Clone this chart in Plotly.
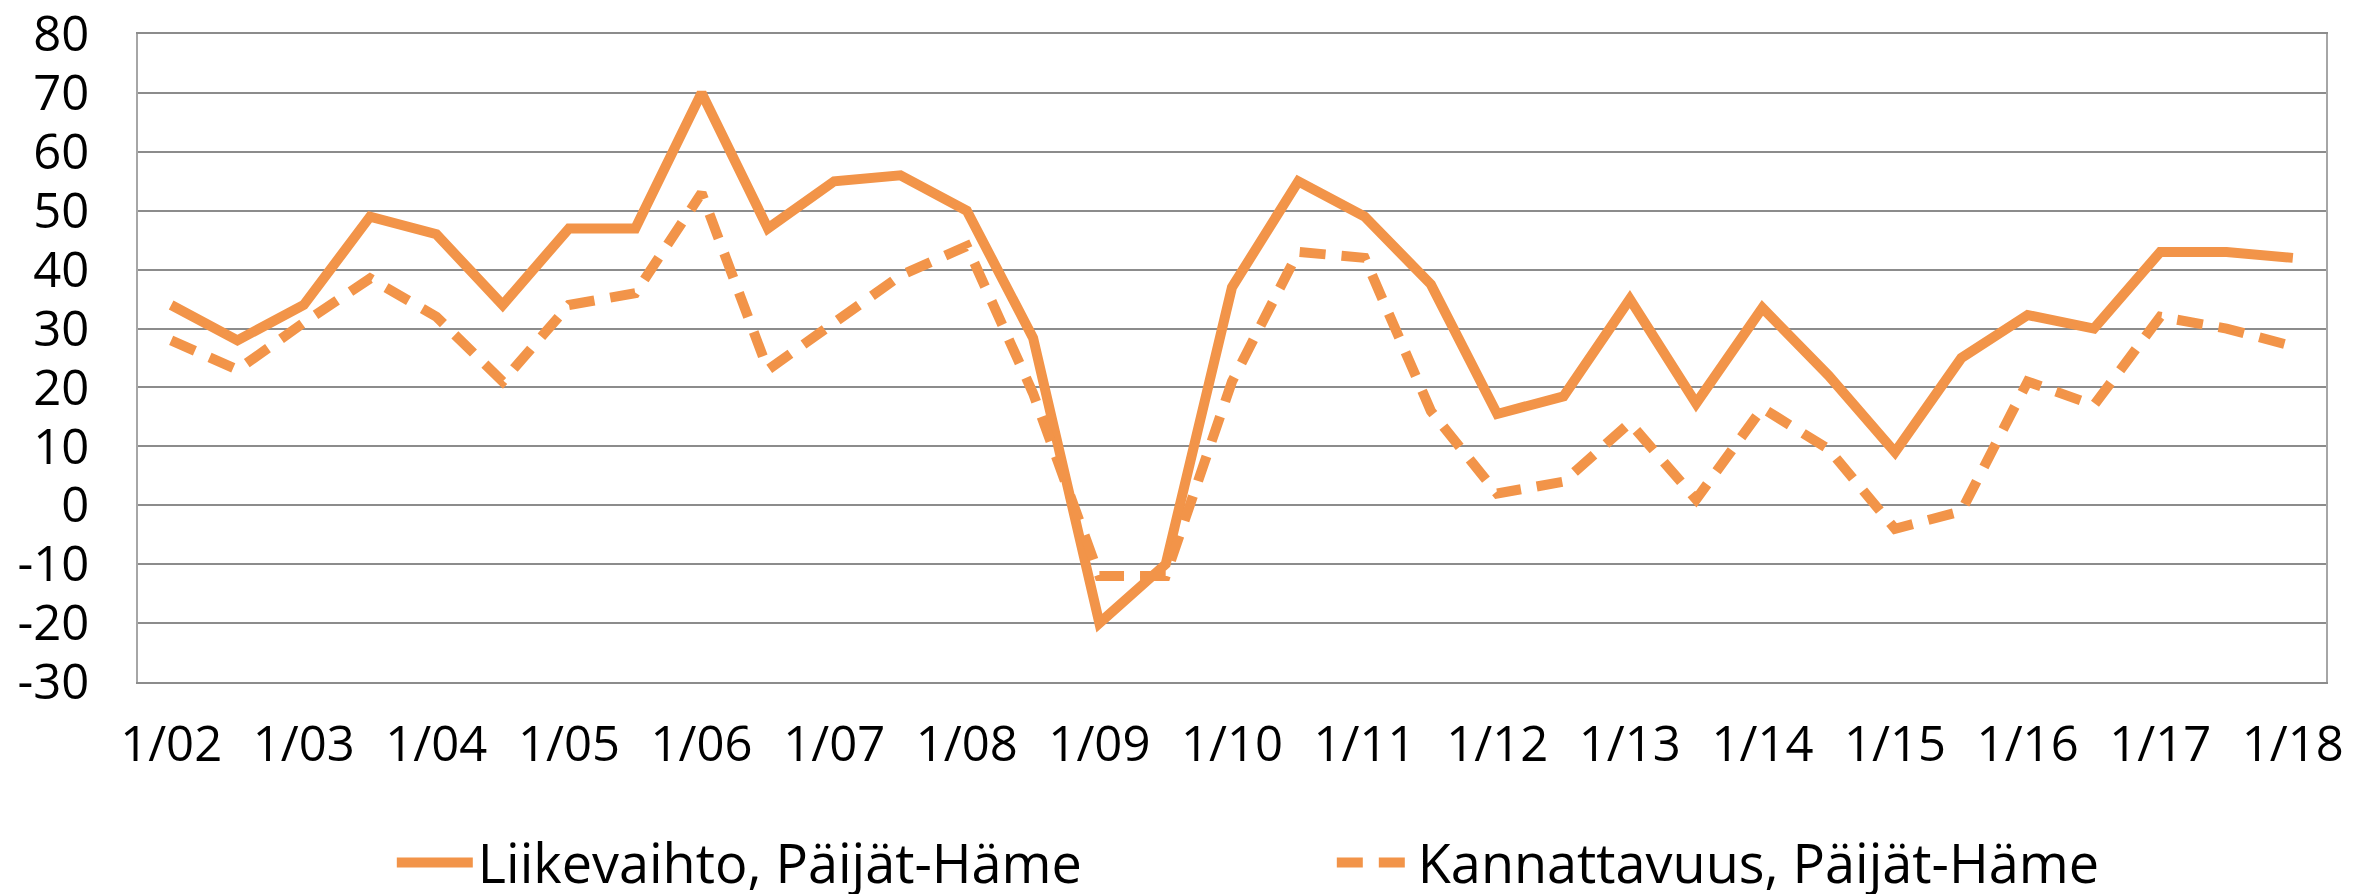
import plotly.graph_objects as go

periods = ["1/02", "7/02", "1/03", "7/03", "1/04", "7/04", "1/05", "7/05", "1/06", "7/06",
           "1/07", "7/07", "1/08", "7/08", "1/09", "7/09", "1/10", "7/10", "1/11", "7/11",
           "1/12", "7/12", "1/13", "7/13", "1/14", "7/14", "1/15", "7/15", "1/16", "7/16",
           "1/17", "7/17", "1/18"]

liikevaihto = [34, 28, 34, 49, 46, 34, 47, 47, 70, 47,
               55, 56, 50, 28.4, -20, -10, 37, 55, 49, 37.5,
               15.5, 18.5, 35, 17.3, 33.5, 22, 9, 25, 32.3, 30,
               43, 43, 42]

kannattavuus = [28, 23, 31, 38.5, 32, 21, 34, 36, 53, 23,
                31, 39, 44, 19, -12, -12, 21, 43, 42, 16,
                2, 4, 14, 1, 16.5, 9.5, -4, -1, 21, 17,
                32, 30, 27]

tick_labels = ["1/02", "1/03", "1/04", "1/05", "1/06", "1/07", "1/08", "1/09", "1/10",
               "1/11", "1/12", "1/13", "1/14", "1/15", "1/16", "1/17", "1/18"]
y_ticks = [-30, -20, -10, 0, 10, 20, 30, 40, 50, 60, 70, 80]
y_tick_text = ["-30", "-20", "-10", "0", "10", "20", "30", "40", "50", "60", "70", "80"]

name_1 = "Liikevaihto, Päijät-Häme"
name_2 = "Kannattavuus, Päijät-Häme"

ORANGE = "#F29449"
GRID = "#8C8C8C"
FONT = "Open Sans"

fig = go.Figure()
fig.add_trace(go.Scatter(x=periods, y=liikevaihto, mode="lines", name=name_1,
                         line=dict(color=ORANGE, width=10)))
fig.add_trace(go.Scatter(x=periods, y=kannattavuus, mode="lines", name=name_2,
                         line=dict(color=ORANGE, width=10, dash="26px,16px")))

fig.update_layout(
    width=2356, height=894,
    margin=dict(l=138, r=30, t=34, b=212, autoexpand=False),
    paper_bgcolor="white", plot_bgcolor="white",
    font=dict(family=FONT, size=48, color="black"),
    showlegend=True,
    legend=dict(orientation="h", x=0.116, xanchor="left", y=-0.279, yanchor="middle",
                font=dict(family=FONT, size=54, color="black"),
                itemwidth=76, entrywidth=849, entrywidthmode="pixels",
                bgcolor="rgba(0,0,0,0)"),
)

fig.update_xaxes(
    type="category", categoryorder="array", categoryarray=periods,
    range=[-0.5, len(periods) - 0.5],
    tickmode="array", tickvals=tick_labels, ticktext=tick_labels,
    showgrid=False, zeroline=False, automargin=False,
    showline=True, mirror=True, linecolor=GRID, linewidth=2,
    ticks="", ticklabelstandoff=18, ticklabeloverflow="allow",
    tickfont=dict(family=FONT, size=49, color="black"),
)
fig.update_yaxes(
    range=[-30.001, 80.001], tickmode="array", tickvals=y_ticks, ticktext=y_tick_text,
    showgrid=True, gridcolor=GRID, gridwidth=2,
    zeroline=False, automargin=False,
    showline=True, mirror=True, linecolor="#A6A6A6", linewidth=2,
    ticks="", ticklabelstandoff=37, ticklabeloverflow="allow",
    tickfont=dict(family=FONT, size=49, color="black"),
)

fig.write_html("out.html",
               config={"displayModeBar": False},
               post_script="document.body.style.margin='0';document.body.style.overflow='hidden';")
